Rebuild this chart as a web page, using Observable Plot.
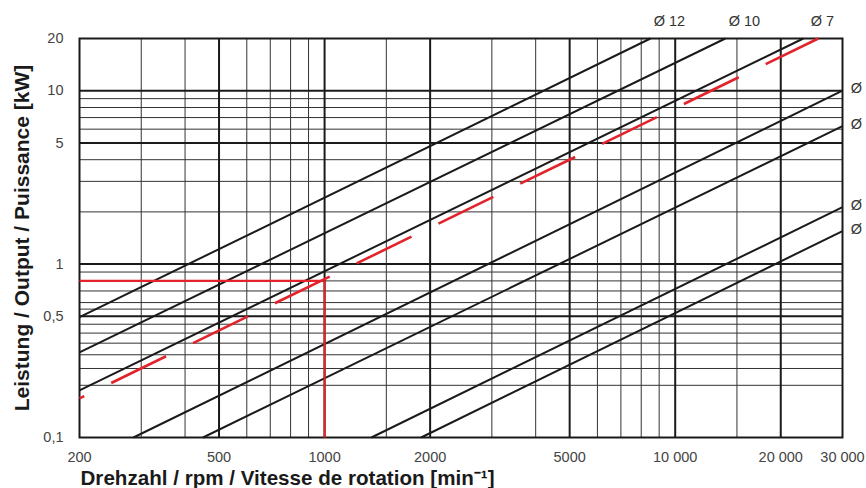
<!DOCTYPE html>
<html>
<head>
<meta charset="utf-8">
<script src="https://cdn.jsdelivr.net/npm/d3@7"></script>
<script src="https://cdn.jsdelivr.net/npm/@observablehq/plot@0.6"></script>
<style>
  html, body { margin: 0; padding: 0; background: #fff; }
  #chart { width: 866px; height: 488px; }
</style>
</head>
<body>
<div id="chart"></div>
<script>
// ---- data ----
const xTicks = [200, 500, 1000, 2000, 5000, 10000, 20000, 30000];
const xTickLabels = ["200", "500", "1000", "2000", "5000", "10 000", "20 000", "30 000"];
const yTicks = [20, 10, 5, 1, 0.5, 0.1];
const yTickLabels = ["20", "10", "5", "1", "0,5", "0,1"];

const xGridMajor = [500, 1000, 2000, 5000, 10000, 20000];
const xGridMinor = [300, 400, 600, 700, 800, 900, 1500, 3000, 4000, 6000, 7000, 8000, 9000, 15000];
const yGridMajor = [0.5, 1, 5, 10];
const yGridMinor = [0.2, 0.25, 0.3, 0.35, 0.4, 0.45, 0.55, 0.6, 0.7, 0.8, 0.9, 2, 3, 4, 6, 7, 8, 9];

// diameter lines: start (rpm, kW) and end (rpm, kW)
const diameters = ["Ø 12", "Ø 10", "Ø 7", "Ø", "Ø", "Ø", "Ø"];
const rpmStart = [200, 200, 200, 285, 450, 1360, 1885];
const kwStart  = [0.494, 0.31, 0.187, 0.1, 0.1, 0.1, 0.1];
const rpmEnd   = [8500, 13900, 23200, 30000, 30000, 30000, 30000];
const kwEnd    = [20, 20, 20, 10, 6.25, 2.13, 1.55];

// red example curve and reading
const exampleRpm = [200, 25600];
const exampleKw = [0.168, 20];
const readingRpm = 1000;
const readingKw = 0.8;

const xLabel = "Drehzahl / rpm / Vitesse de rotation [min⁻¹]";
const yLabel = "Leistung / Output / Puissance [kW]";

// ---- build ----
const diagLines = diameters.map((d, i) => ({
  name: d, x1: rpmStart[i], y1: kwStart[i], x2: rpmEnd[i], y2: kwEnd[i], top: kwEnd[i] === 20
}));
const example = [{x1: exampleRpm[0], y1: exampleKw[0], x2: exampleRpm[1], y2: exampleKw[1]}];
const xTickData = xTicks.map((v, i) => ({v, label: xTickLabels[i]}));
const yTickData = yTicks.map((v, i) => ({v, label: yTickLabels[i]}));

const font = "'Liberation Sans', Arial, Helvetica, sans-serif";
const RED = "#e3232b";
const INK = "#1a1a1a";

const chart = Plot.plot({
  width: 866,
  height: 488,
  marginLeft: 79,
  marginRight: 24,
  marginTop: 38,
  marginBottom: 51,
  style: {fontFamily: font, background: "#fff", overflow: "visible"},
  x: {type: "log", domain: [200, 30000], axis: null},
  y: {type: "log", domain: [0.1, 20], axis: null},
  marks: [
    Plot.ruleX(xGridMinor, {stroke: "#333", strokeWidth: 1}),
    Plot.ruleY(yGridMinor, {stroke: "#333", strokeWidth: 1}),
    Plot.ruleX(xGridMajor, {stroke: INK, strokeWidth: 2}),
    Plot.ruleY(yGridMajor, {stroke: INK, strokeWidth: 2}),
    Plot.frame({stroke: INK, strokeWidth: 2}),
    Plot.link(diagLines, {x1: "x1", y1: "y1", x2: "x2", y2: "y2", stroke: INK, strokeWidth: 2}),
    // red reading lines
    Plot.link([{a: 200, b: readingRpm, k: readingKw}], {x1: "a", x2: "b", y1: "k", y2: "k", stroke: RED, strokeWidth: 2.2}),
    Plot.link([{n: readingRpm, lo: 0.1, k: readingKw}], {x1: "n", x2: "n", y1: "lo", y2: "k", stroke: RED, strokeWidth: 2.2}),
    Plot.link(example, {x1: "x1", y1: "y1", x2: "x2", y2: "y2", stroke: RED, strokeWidth: 2.6,
      strokeDasharray: "61,30", strokeDashoffset: 55.7}),
    // diameter labels
    Plot.text(diagLines.filter(d => d.top), {x: "x2", y: "y2", text: "name", dx: 19, dy: -17,
      textAnchor: "middle", fontSize: 14.5, fill: "#333"}),
    Plot.text(diagLines.filter(d => !d.top), {x: "x2", y: "y2", text: "name", dx: 14, dy: -2,
      textAnchor: "middle", fontSize: 14.5, fill: "#333"}),
    // tick labels
    Plot.text(xTickData, {x: "v", frameAnchor: "bottom", text: "label", dy: 20, lineAnchor: "middle",
      textAnchor: "middle", fontSize: 14.5, fill: "#444"}),
    Plot.text(yTickData, {y: "v", frameAnchor: "left", text: "label", dx: -16, lineAnchor: "middle",
      textAnchor: "end", fontSize: 14.5, fill: "#444"}),
    // axis titles
    Plot.text([xLabel], {frameAnchor: "bottom-left", text: d => d, dx: 1, dy: 41, lineAnchor: "middle",
      textAnchor: "start", fontSize: 20.6, fontWeight: "bold", fill: INK}),
    Plot.text([yLabel], {frameAnchor: "left", text: d => d, dx: -57, rotate: -90, lineAnchor: "middle",
      textAnchor: "middle", fontSize: 21, fontWeight: "bold", fill: INK})
  ]
});
document.getElementById("chart").appendChild(chart);
</script>
</body>
</html>
